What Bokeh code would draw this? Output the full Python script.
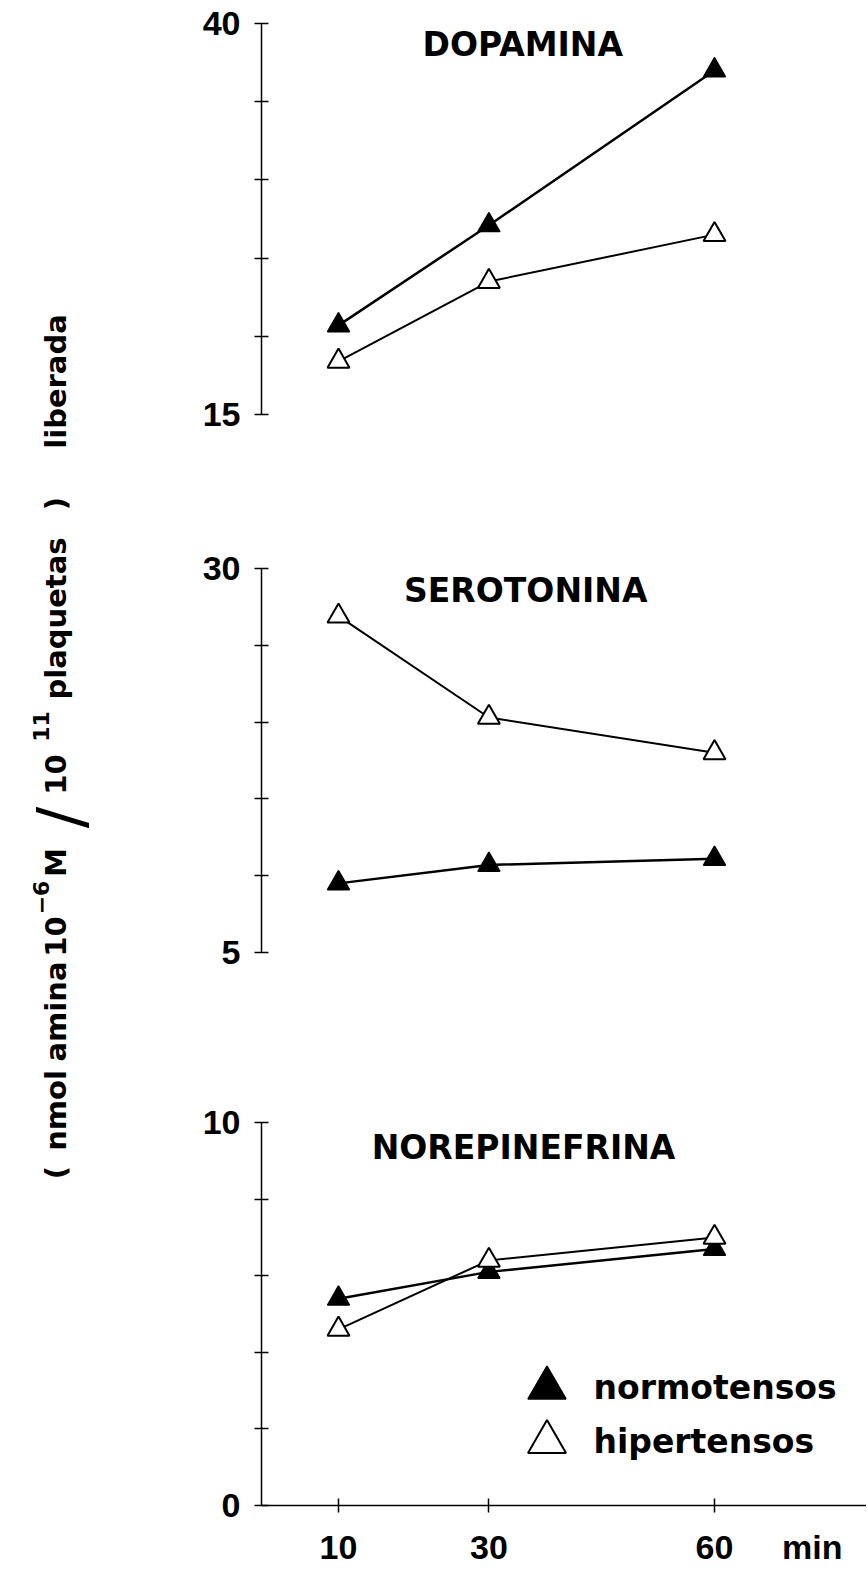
import math
from bokeh.plotting import figure
from bokeh.models import Range1d, FixedTicker, Label, Legend, LegendItem
from bokeh.layouts import row, column
from bokeh.embed import file_html
from bokeh.resources import INLINE

# ---- data ----
minutes = [10, 30, 60]
x_tick_labels = ["10", "30", "60"]
unit_label = "min"
unit_pos = 73.0

dopa_normo = [20.7, 27.1, 37.0]
dopa_hiper = [18.4, 23.5, 26.5]

sero_normo = [9.5, 10.7, 11.1]
sero_hiper = [26.9, 20.3, 18.0]

nore_normo = [5.4, 6.1, 6.7]
nore_hiper = [4.6, 6.4, 7.0]

panel_titles = ["DOPAMINA", "SEROTONINA", "NOREPINEFRINA"]
dopa_ticks = [15, 20, 25, 30, 35, 40]
sero_ticks = [5, 10, 15, 20, 25, 30]
nore_ticks = [0, 2, 4, 6, 8, 10]

series_names = ["normotensos", "hipertensos"]

NUM_FONT = "Liberation Sans"
TXT_FONT = "DejaVu Sans"

COL_W = 728
x_range = Range1d(-0.24, -0.24 + (COL_W - 123) / 7.52)


def make_panel(title, normo, hiper, ticks, height, top, bottom, with_xaxis, title_pos):
    p = figure(width=COL_W, height=height, x_range=x_range,
               y_range=Range1d(ticks[0], ticks[-1]),
               min_border_left=123, min_border_right=0,
               min_border_top=top, min_border_bottom=bottom,
               toolbar_location=None, output_backend="svg",
               x_axis_location="below" if with_xaxis else None)
    p.outline_line_color = None
    p.xgrid.visible = False
    p.ygrid.visible = False
    p.background_fill_color = "white"
    p.border_fill_color = "white"

    ya = p.yaxis[0]
    ya.ticker = FixedTicker(ticks=ticks)
    ya.major_label_overrides = {t: "" for t in ticks[1:-1]}
    ya.axis_line_width = 1.5
    ya.major_tick_line_width = 1.5
    ya.major_tick_in = 7
    ya.major_tick_out = 7
    ya.minor_tick_line_color = None
    ya.major_label_text_font = NUM_FONT
    ya.major_label_text_font_style = "bold"
    ya.major_label_text_font_size = "34px"
    ya.major_label_text_color = "black"
    ya.major_label_standoff = 14

    if with_xaxis:
        xa = p.xaxis[0]
        # labels sit on the major ticks (incl. the unit), marks are drawn as minor ticks
        xa.ticker = FixedTicker(ticks=minutes + [unit_pos], minor_ticks=minutes)
        overrides = dict(zip(minutes, x_tick_labels))
        overrides[unit_pos] = unit_label
        xa.major_label_overrides = overrides
        xa.axis_line_width = 1.5
        xa.major_tick_line_color = None
        xa.major_tick_in = 0
        xa.major_tick_out = 0
        xa.minor_tick_line_color = "black"
        xa.minor_tick_line_width = 1.5
        xa.minor_tick_in = 7
        xa.minor_tick_out = 7
        xa.major_label_text_font = NUM_FONT
        xa.major_label_text_font_style = "bold"
        xa.major_label_text_font_size = "34px"
        xa.major_label_text_color = "black"
        xa.major_label_standoff = 15

    p.line(minutes, normo, line_color="black", line_width=2.5)
    p.line(minutes, hiper, line_color="black", line_width=2)
    rn = p.scatter(minutes, normo, marker="triangle", size=22,
                   fill_color="black", line_color="black", line_width=1.5)
    rh = p.scatter(minutes, hiper, marker="triangle", size=22,
                   fill_color="white", line_color="black", line_width=2)

    p.add_layout(Label(x=title_pos[0], y=title_pos[1], text=title,
                       text_align="center", text_baseline="middle",
                       text_font=TXT_FONT, text_font_style="bold",
                       text_font_size="33px", text_color="black"))
    return p, rn, rh


f1, _, _ = make_panel(panel_titles[0], dopa_normo, dopa_hiper, dopa_ticks,
                      434, 23, 20, False, (34.5, 38.66))
f2, _, _ = make_panel(panel_titles[1], sero_normo, sero_hiper, sero_ticks,
                      538, 134, 20, False, (34.9, 28.57))
f3, rn3, rh3 = make_panel(panel_titles[2], nore_normo, nore_hiper, nore_ticks,
                          596, 150, 59, True, (34.6, 9.36))

# legend
for name, rend, loc in [(series_names[0], rn3, (237.5, 70)),
                        (series_names[1], rh3, (237.5, 16))]:
    lg = Legend(items=[LegendItem(label=name, renderers=[rend])],
                location=loc, glyph_width=95, glyph_height=95,
                label_standoff=-8, padding=0, margin=0, spacing=0,
                border_line_color=None, background_fill_alpha=0,
                label_text_font=TXT_FONT, label_text_font_style="bold",
                label_text_font_size="33px", label_text_color="black")
    f3.add_layout(lg)

# left strip holding the rotated y-axis title
left = figure(width=138, height=1568, x_range=Range1d(0, 138),
              y_range=Range1d(1568, 0), min_border=0,
              toolbar_location=None, output_backend="svg",
              x_axis_location=None, y_axis_location=None)
left.outline_line_color = None
left.xgrid.visible = False
left.ygrid.visible = False

label_parts = [
    ("(", 55, 1172, "29px", "bold"),
    ("nmol", 55, 1110, "29px", "bold"),
    ("amina", 55, 1011, "29px", "bold"),
    ("10", 55, 936, "29px", "bold"),
    ("\u22126", 40, 897, "22px", "bold"),
    ("M", 55, 862, "29px", "bold"),
    ("/", 60, 817, "64px", "normal"),
    ("10", 55, 774, "29px", "bold"),
    ("11", 40, 726, "22px", "bold"),
    ("plaquetas", 55, 618, "29px", "bold"),
    (")", 55, 503, "29px", "bold"),
    ("liberada", 55, 381, "29px", "bold"),
]
for txt, cx, cy, fs, st in label_parts:
    left.add_layout(Label(x=cx, y=cy, text=txt, angle=math.pi / 2,
                          text_align="center", text_baseline="middle",
                          text_font=TXT_FONT, text_font_style=st,
                          text_font_size=fs, text_color="black"))

layout = row(left, column(f1, f2, f3))

open("out.html", "w").write(file_html(layout, INLINE))
